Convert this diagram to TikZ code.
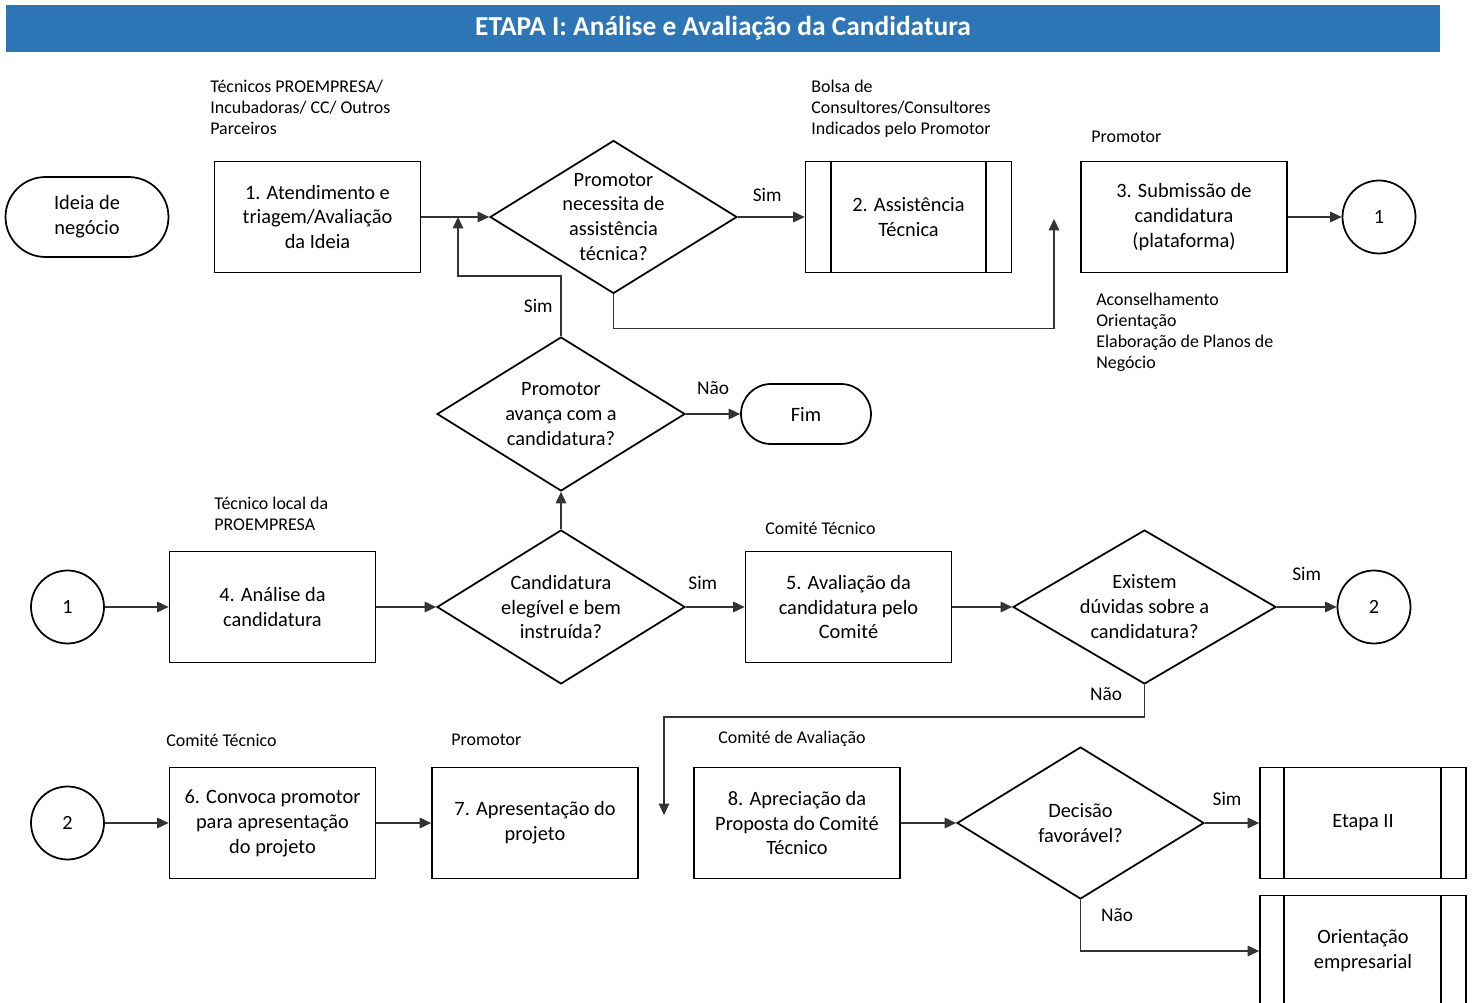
\documentclass[tikz,border=0pt]{standalone}
\usepackage{fontspec}
\setmainfont{Carlito}
\usepackage{xcolor}
\usepackage{tikz}
\usetikzlibrary{positioning,arrows.meta,shapes.geometric,calc}

\definecolor{barblue}{HTML}{2E75B6}

\begin{document}
\begin{tikzpicture}[x=0.02cm, y=-0.02cm, >={Triangle[length=6.5pt,width=6pt]},
  txt/.style={font=\fontsize{11.6}{14.2}\selectfont, align=center},
  box/.style={txt, draw, line width=1pt, minimum width=4.12cm, minimum height=2.22cm, inner sep=2pt},
  decision/.style={diamond, draw, line width=1pt, inner sep=0pt, minimum width=4.94cm, minimum height=3.06cm},
  dlabel/.style={txt, inner sep=0pt},
  term/.style={txt, draw, line width=1pt, rounded corners=0.8cm, minimum width=3.26cm, minimum height=1.6cm},
  conn/.style={circle, draw, line width=1pt, minimum size=1.46cm, font=\fontsize{11.5}{14}\selectfont},
  role/.style={anchor=west, align=left, inner sep=0pt, font=\fontsize{10.2}{11.9}\selectfont},
  flow/.style={->, line width=0.8pt, black!80},
  yn/.style={font=\fontsize{11}{13}\selectfont, text=black}
]
\useasboundingbox (0,0) rectangle (1472,1003);

% Title bar
\node[fill=barblue, text=white, font=\fontsize{15.6}{18}\selectfont\bfseries, minimum width=28.68cm, minimum height=0.94cm, inner sep=0pt] (ttl) at (723,28.5) {ETAPA I: Análise e Avaliação da Candidatura};

% Row 1
\node[term] (idea) at (87,217) {Ideia de\\negócio};
\node[box] (b1) at (317.5,217) {1. Atendimento e\\triagem/Avaliação\\da Ideia};
\node[decision, label={[dlabel]center:{Promotor\\necessita de\\assistência\\técnica?}}] (d1) at (613.5,217) {};
\node[box] (b2) at (908.5,217) {2. Assistência\\Técnica};
\draw[line width=1pt] ([xshift=0.52cm]b2.north west) -- ([xshift=0.52cm]b2.south west);
\draw[line width=1pt] ([xshift=-0.52cm]b2.north east) -- ([xshift=-0.52cm]b2.south east);
\node[box] (b3) at (1184,217) {3. Submissão de\\candidatura\\(plataforma)};
\node[conn] (c1a) at (1379,217) {1};

\node[role] (r1) at (210,107.5) {Técnicos PROEMPRESA/\\Incubadoras/ CC/ Outros\\Parceiros};
\node[role] (r2) at (811,108.5) {Bolsa de\\Consultores/Consultores\\Indicados pelo Promotor};
\node[role] (r3) at (1091,137) {Promotor};
\node[role] (r4) at (1096,332.5) {Aconselhamento\\Orientação\\Elaboração de Planos de\\Negócio};

% Row 2
\node[decision, minimum width=4.96cm, minimum height=3.08cm, label={[dlabel]center:{Promotor\\avança com a\\candidatura?}}] (d2) at (561,414) {};
\node[term, rounded corners=0.6cm, minimum width=2.6cm, minimum height=1.2cm] (fim) at (806,414) {Fim};

% Row 3
\node[conn] (c1b) at (67.5,607) {1};
\node[box] (b4) at (272.5,607) {4. Análise da\\candidatura};
\node[decision, minimum width=4.96cm, minimum height=3.08cm, label={[dlabel]center:{Candidatura\\elegível e bem\\instruída?}}] (d3) at (561,607) {};
\node[box] (b5) at (848.5,607) {5. Avaliação da\\candidatura pelo\\Comité};
\node[decision, minimum width=5.26cm, minimum height=3.08cm, label={[dlabel]center:{Existem\\dúvidas sobre a\\candidatura?}}] (d4) at (1144.5,607) {};
\node[conn] (c2a) at (1374,607) {2};

\node[role] (r5) at (214,513.5) {Técnico local da\\PROEMPRESA};
\node[role] (r6) at (765,528) {Comité Técnico};

% Row 4
\node[conn] (c2b) at (67.5,823) {2};
\node[box] (b6) at (272.5,823) {6. Convoca promotor\\para apresentação\\do projeto};
\node[box] (b7) at (535,823) {7. Apresentação do\\projeto};
\node[box] (b8) at (797,823) {8. Apreciação da\\Proposta do Comité\\Técnico};
\node[decision, minimum height=3.04cm, label={[dlabel]center:{Decisão\\favorável?}}] (d5) at (1080.5,823) {};
\node[box] (e2) at (1363,823) {Etapa II};
\draw[line width=1pt] ([xshift=0.5cm]e2.north west) -- ([xshift=0.5cm]e2.south west);
\draw[line width=1pt] ([xshift=-0.52cm]e2.north east) -- ([xshift=-0.52cm]e2.south east);
\node[box] (ori) at (1363,951) {Orientação\\empresarial};
\draw[line width=1pt] ([xshift=0.5cm]ori.north west) -- ([xshift=0.5cm]ori.south west);
\draw[line width=1pt] ([xshift=-0.52cm]ori.north east) -- ([xshift=-0.52cm]ori.south east);

\node[role] (r7) at (166,740) {Comité Técnico};
\node[role] (r8) at (451,740) {Promotor};
\node[role] (r9) at (718,739) {Comité de Avaliação};

% Connectors
\coordinate (j1) at (458,217);
\coordinate (j2) at (1054,219);
\coordinate (j3) at (664,815);

\draw[flow] (b1.east) -- (d1.west);
\draw[flow] (d1.east) -- node[yn, above=5pt, xshift=-0.08cm] (s1) {Sim} (b2.west);
\draw[flow] (d1.south) -- ++(0,34) -| (j2);
\draw[flow] (b3.east) -- (c1a.west);
\draw[flow] (d2.north) -- ++(0,-60) node[yn, midway, left=1pt] (s2) {Sim} -| (j1);
\draw[flow] (d2.east) -- node[yn, above=7pt] (n1) {Não} (fim.west);
\draw[flow] (d3.north) -- (d2.south);
\draw[flow] (c1b.east) -- (b4.west);
\draw[flow] (b4.east) -- (d3.west);
\draw[flow] (d3.east) -- node[yn, above=6pt, xshift=-0.25cm] (s3) {Sim} (b5.west);
\draw[flow] (b5.east) -- (d4.west);
\draw[flow] (d4.east) -- node[yn, above=11pt] (s4) {Sim} (c2a.west);
\draw[flow] (d4.south) -- ++(0,32) node[yn, pos=0.3, left=9pt] (n2) {Não} -| (j3);
\draw[flow] (c2b.east) -- (b6.west);
\draw[flow] (b6.east) -- (b7.west);
\draw[flow] (b8.east) -- (d5.west);
\draw[flow] (d5.east) -- node[yn, above=6pt, xshift=-0.1cm] (s5) {Sim} (e2.west);
\draw[flow] (d5.south) |- node[yn, pos=0.15, right=8pt] (n3) {Não} (ori.west);

\end{tikzpicture}
\end{document}
